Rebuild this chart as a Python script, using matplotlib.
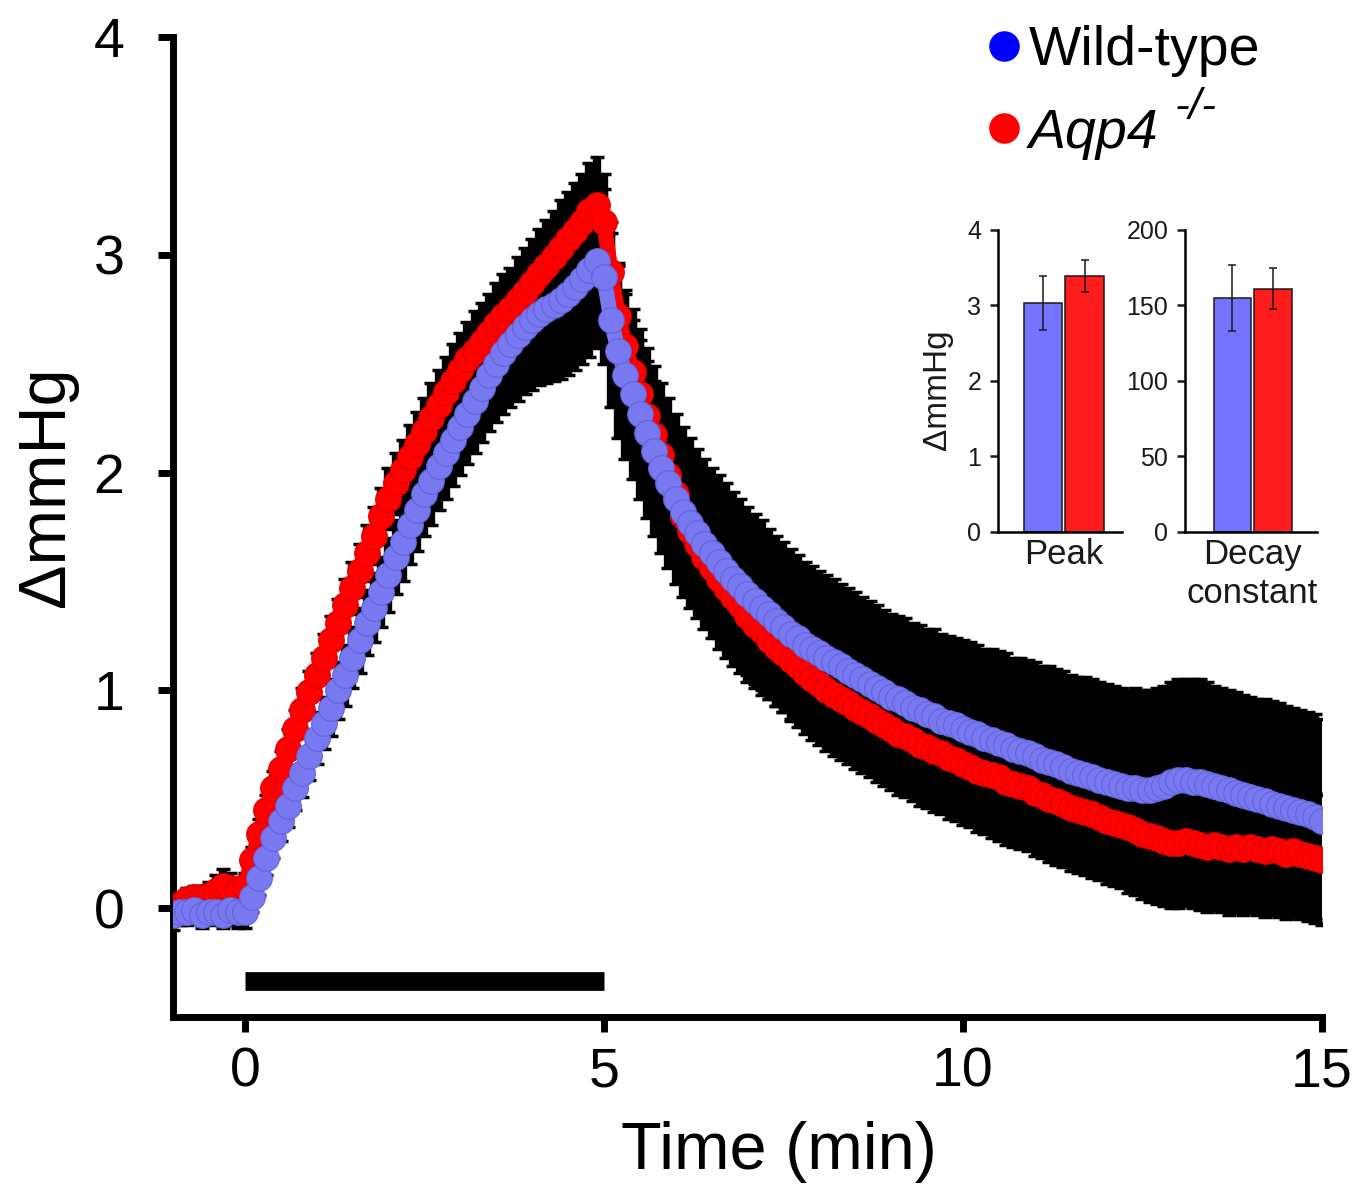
import numpy as np
import matplotlib
matplotlib.use("Agg")
import matplotlib.pyplot as plt
from matplotlib.lines import Line2D

plt.rcParams["font.family"] = ["Liberation Sans", "DejaVu Sans"]

# ---- data ---------------------------------------------------------------------
# time course sampled every 0.1 min from -1 to 15 min
time_min = np.linspace(-1.0, 15.0, 161)

wt_mean = [
    -0.03, -0.02, -0.02, -0.01, -0.03, -0.02, -0.02, -0.03, -0.01, -0.02,
    -0.02, 0.05, 0.14, 0.23, 0.32, 0.40, 0.47, 0.55, 0.62, 0.70,
    0.78, 0.85, 0.92, 1.00, 1.07, 1.15, 1.23, 1.31, 1.38, 1.45,
    1.53, 1.61, 1.68, 1.76, 1.83, 1.90, 1.96, 2.03, 2.09, 2.15,
    2.21, 2.27, 2.33, 2.39, 2.45, 2.50, 2.55, 2.59, 2.63, 2.67,
    2.70, 2.73, 2.75, 2.77, 2.79, 2.82, 2.85, 2.89, 2.93, 2.97,
    2.90, 2.70, 2.56, 2.45, 2.36, 2.27, 2.18, 2.10, 2.02, 1.95,
    1.88, 1.82, 1.77, 1.72, 1.67, 1.63, 1.59, 1.55, 1.51, 1.48,
    1.44, 1.41, 1.38, 1.35, 1.32, 1.29, 1.26, 1.24, 1.21, 1.19,
    1.17, 1.15, 1.13, 1.11, 1.09, 1.07, 1.05, 1.03, 1.01, 0.99,
    0.97, 0.96, 0.94, 0.92, 0.91, 0.89, 0.88, 0.86, 0.85, 0.84,
    0.82, 0.81, 0.80, 0.78, 0.77, 0.76, 0.75, 0.73, 0.72, 0.71,
    0.70, 0.68, 0.67, 0.66, 0.65, 0.63, 0.62, 0.61, 0.60, 0.59,
    0.58, 0.57, 0.56, 0.55, 0.55, 0.54, 0.54, 0.55, 0.56, 0.58,
    0.59, 0.59, 0.58, 0.58, 0.57, 0.56, 0.55, 0.54, 0.53, 0.52,
    0.51, 0.50, 0.49, 0.48, 0.47, 0.46, 0.45, 0.44, 0.43, 0.42,
    0.40,
]
wt_sem = [
    0.07, 0.06, 0.06, 0.05, 0.06, 0.06, 0.05, 0.06, 0.07, 0.07,
    0.07, 0.07, 0.08, 0.08, 0.09, 0.09, 0.10, 0.10, 0.11, 0.11,
    0.12, 0.12, 0.13, 0.13, 0.14, 0.14, 0.15, 0.15, 0.16, 0.16,
    0.17, 0.17, 0.18, 0.18, 0.19, 0.19, 0.20, 0.20, 0.21, 0.21,
    0.22, 0.23, 0.24, 0.25, 0.26, 0.27, 0.28, 0.29, 0.30, 0.31,
    0.32, 0.33, 0.34, 0.35, 0.36, 0.37, 0.38, 0.39, 0.40, 0.40,
    0.40, 0.40, 0.40, 0.39, 0.39, 0.39, 0.39, 0.39, 0.39, 0.39,
    0.39, 0.39, 0.39, 0.39, 0.39, 0.39, 0.40, 0.40, 0.40, 0.40,
    0.40, 0.40, 0.40, 0.39, 0.39, 0.39, 0.39, 0.38, 0.38, 0.38,
    0.38, 0.38, 0.38, 0.38, 0.38, 0.38, 0.38, 0.38, 0.38, 0.38,
    0.38, 0.38, 0.39, 0.39, 0.39, 0.39, 0.40, 0.40, 0.40, 0.40,
    0.41, 0.41, 0.41, 0.41, 0.42, 0.42, 0.42, 0.42, 0.43, 0.43,
    0.43, 0.43, 0.44, 0.44, 0.44, 0.44, 0.44, 0.45, 0.45, 0.45,
    0.45, 0.45, 0.45, 0.45, 0.46, 0.46, 0.46, 0.46, 0.46, 0.46,
    0.46, 0.46, 0.47, 0.47, 0.47, 0.46, 0.46, 0.46, 0.46, 0.46,
    0.46, 0.46, 0.47, 0.47, 0.47, 0.47, 0.47, 0.47, 0.47, 0.47,
    0.47,
]
ko_mean = [
    0.00, 0.02, 0.04, 0.05, 0.05, 0.06, 0.08, 0.10, 0.09, 0.08,
    0.10, 0.22, 0.34, 0.45, 0.55, 0.64, 0.73, 0.82, 0.91, 0.99,
    1.07, 1.15, 1.23, 1.31, 1.39, 1.47, 1.55, 1.63, 1.71, 1.80,
    1.88, 1.95, 2.01, 2.07, 2.13, 2.19, 2.25, 2.31, 2.37, 2.42,
    2.47, 2.52, 2.56, 2.60, 2.64, 2.68, 2.72, 2.75, 2.79, 2.83,
    2.87, 2.91, 2.95, 2.99, 3.03, 3.07, 3.11, 3.15, 3.20, 3.23,
    3.15, 2.92, 2.72, 2.58, 2.46, 2.36, 2.26, 2.17, 2.08, 1.99,
    1.90, 1.80, 1.73, 1.67, 1.61, 1.56, 1.51, 1.47, 1.43, 1.39,
    1.34, 1.30, 1.27, 1.23, 1.20, 1.17, 1.14, 1.11, 1.08, 1.05,
    1.03, 1.00, 0.98, 0.96, 0.94, 0.92, 0.90, 0.88, 0.86, 0.84,
    0.82, 0.80, 0.79, 0.77, 0.75, 0.74, 0.72, 0.71, 0.69, 0.68,
    0.66, 0.65, 0.63, 0.62, 0.61, 0.60, 0.58, 0.57, 0.56, 0.55,
    0.53, 0.52, 0.50, 0.49, 0.48, 0.46, 0.45, 0.44, 0.43, 0.42,
    0.40, 0.39, 0.38, 0.37, 0.36, 0.34, 0.33, 0.32, 0.31, 0.30,
    0.30, 0.31, 0.30, 0.29, 0.28, 0.29, 0.28, 0.27, 0.28, 0.27,
    0.28, 0.27, 0.26, 0.27, 0.26, 0.25, 0.26, 0.25, 0.24, 0.23,
    0.22,
]
ko_sem = [
    0.04, 0.04, 0.05, 0.05, 0.05, 0.06, 0.07, 0.08, 0.07, 0.06,
    0.06, 0.06, 0.07, 0.07, 0.08, 0.08, 0.09, 0.09, 0.10, 0.10,
    0.10, 0.11, 0.11, 0.11, 0.12, 0.12, 0.12, 0.13, 0.13, 0.13,
    0.14, 0.14, 0.14, 0.15, 0.15, 0.15, 0.16, 0.16, 0.16, 0.17,
    0.17, 0.17, 0.18, 0.18, 0.18, 0.19, 0.19, 0.19, 0.20, 0.20,
    0.20, 0.21, 0.21, 0.21, 0.22, 0.22, 0.22, 0.22, 0.22, 0.22,
    0.22, 0.23, 0.23, 0.24, 0.24, 0.25, 0.25, 0.25, 0.26, 0.26,
    0.26, 0.26, 0.27, 0.27, 0.27, 0.27, 0.27, 0.27, 0.27, 0.27,
    0.27, 0.27, 0.27, 0.27, 0.27, 0.27, 0.28, 0.28, 0.28, 0.28,
    0.28, 0.28, 0.28, 0.28, 0.28, 0.28, 0.28, 0.28, 0.28, 0.28,
    0.28, 0.28, 0.28, 0.28, 0.28, 0.28, 0.28, 0.28, 0.28, 0.28,
    0.28, 0.28, 0.28, 0.28, 0.29, 0.29, 0.29, 0.29, 0.29, 0.29,
    0.29, 0.29, 0.29, 0.29, 0.29, 0.29, 0.29, 0.29, 0.29, 0.29,
    0.29, 0.29, 0.29, 0.30, 0.30, 0.30, 0.30, 0.30, 0.30, 0.30,
    0.30, 0.30, 0.30, 0.30, 0.30, 0.30, 0.30, 0.30, 0.30, 0.30,
    0.30, 0.30, 0.30, 0.30, 0.30, 0.30, 0.30, 0.30, 0.30, 0.30,
    0.30,
]

stim_window = [0, 5]          # min, black bar under the trace

# inset bar charts: [Wild-type, Aqp4-/-]
peak_mean = [3.03, 3.39]
peak_sem = [0.36, 0.21]
decay_mean = [155, 161]
decay_sem = [22, 13.5]

# ---- style ---------------------------------------------------------------------
WT_FACE, WT_EDGE = "#7878F0", "#6464DA"
KO_FACE, KO_EDGE = "#FF0000", "#E00000"
WT_BAR, KO_BAR = "#7474FF", "#FF1C1C"

fig = plt.figure(figsize=(13.66, 11.96), dpi=100)
ax = fig.add_axes([0.1266, 0.1497, 0.8412, 0.8194])

# error bars first (black, dense -> solid band), then the two traces on top
for mean, sem in ((wt_mean, wt_sem), (ko_mean, ko_sem)):
    ax.errorbar(time_min, mean, yerr=sem, fmt="none", ecolor="k",
                elinewidth=6, capsize=5, capthick=2.5, zorder=2)
ax.plot(time_min, ko_mean, "-o", color=KO_FACE, lw=11, ms=18.5,
        mfc=KO_FACE, mec=KO_EDGE, mew=0.8, zorder=3)
ax.plot(time_min, wt_mean, "-o", color=WT_FACE, lw=11, ms=18.5,
        mfc=WT_FACE, mec=WT_EDGE, mew=0.8, zorder=4)

# stimulus bar
ax.plot(stim_window, [-0.335, -0.335], color="k", lw=13.5,
        solid_capstyle="butt", zorder=2)

ax.set_xlim(-1, 15)
ax.set_ylim(-0.5, 4)
ax.set_xticks([0, 5, 10, 15])
ax.set_yticks([0, 1, 2, 3, 4])
for s in ("top", "right"):
    ax.spines[s].set_visible(False)
for s in ("left", "bottom"):
    ax.spines[s].set_linewidth(5)
ax.tick_params(direction="out", length=11, width=5, labelsize=40)
ax.tick_params(axis="x", pad=10)
ax.tick_params(axis="y", pad=24)

ax.set_xlabel("Time (min)", fontsize=48)
ax.xaxis.set_label_coords(0.527, -0.106)
ax.set_ylabel("\u0394mmHg", fontsize=48)
ax.yaxis.set_label_coords(-0.083, 0.541)

# legend
handles = [Line2D([], [], ls="none", marker="o", ms=21, mfc="#0000FF", mec="#0000FF"),
           Line2D([], [], ls="none", marker="o", ms=21, mfc="#FF0000", mec="#FF0000")]
leg = fig.legend(handles, ["Wild-type", "Aqp4"], loc="upper left",
                 bbox_to_anchor=(0.7225, 0.979), frameon=False, fontsize=40,
                 handlelength=0.6, handletextpad=0.15, labelspacing=0.55,
                 borderpad=0, borderaxespad=0)
leg.get_texts()[1].set_style("italic")
fig.canvas.draw()
ax.annotate("-/-", xy=(1, 1), xycoords=leg.get_texts()[1], xytext=(12, 15),
            textcoords="offset points", ha="left", va="top",
            fontsize=32, style="italic")

# ---- insets --------------------------------------------------------------------
ins_peak = fig.add_axes([0.7306, 0.5552, 0.0908, 0.2525])
ins_decay = fig.add_axes([0.8675, 0.5552, 0.0966, 0.2525])

insets = [
    (ins_peak, peak_mean, peak_sem, (0, 4), [0, 1, 2, 3, 4], "Peak", (-1.08, 1.9)),
    (ins_decay, decay_mean, decay_sem, (0, 200), [0, 50, 100, 150, 200],
     "Decay\nconstant", (-1.17, 2.09)),
]
for a, means, sems, ylim, yticks, name, xlim in insets:
    a.bar([0, 1], means, width=0.93, color=[WT_BAR, KO_BAR],
          edgecolor="#1a1a1a", linewidth=1.1, zorder=2)
    a.errorbar([0, 1], means, yerr=sems, fmt="none", ecolor="#1a1a1a",
               elinewidth=1.1, capsize=3, capthick=1.1, zorder=3)
    a.set_xlim(*xlim)
    a.set_ylim(*ylim)
    a.set_yticks(yticks)
    a.set_xticks([0.5])
    a.set_xticklabels([name], fontsize=25, linespacing=1.25, color="#1a1a1a")
    a.tick_params(axis="y", direction="out", length=6, width=1.8,
                  labelsize=18, pad=6, colors="#1a1a1a")
    a.tick_params(axis="x", length=0, pad=4)
    for s in ("top", "right"):
        a.spines[s].set_visible(False)
    for s in ("left", "bottom"):
        a.spines[s].set_linewidth(1.8)
    a.patch.set_alpha(0)

ins_peak.set_ylabel("\u0394mmHg", fontsize=24, color="#1a1a1a")
ins_peak.yaxis.set_label_coords(-0.36, 0.47)

fig.savefig("out.png", dpi=100, facecolor="white")
